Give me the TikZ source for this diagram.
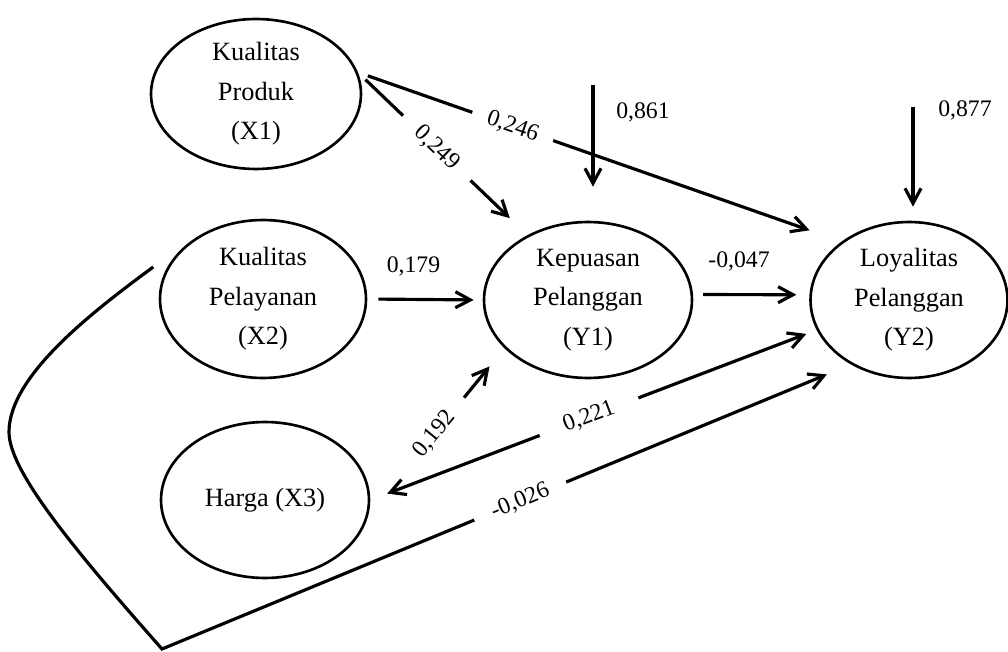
\documentclass[tikz,border=0pt]{standalone}
\usepackage{fontspec}
\setmainfont{Liberation Serif}
\usetikzlibrary{arrows.meta,calc,shapes.geometric}

\begin{document}
\begin{tikzpicture}[x=0.02cm,y=-0.02cm,
  >={Straight Barb[length=3mm,width=3.2mm]},
  var/.style={draw,ellipse,line width=1.5pt,inner sep=0pt,align=center,font=\fontsize{15pt}{22.5pt}\selectfont},
  link/.style={line width=1.8pt},
  num/.style={font=\fontsize{13.5pt}{16pt}\selectfont},
  cut/.style={num,fill=white,sloped,inner ysep=1pt}]
  \useasboundingbox (0,0) rectangle (1008,652);
  % variables
  \node[var,minimum width=4.2cm,minimum height=3cm] (X1) at (256,94) {Kualitas\\Produk\\(X1)};
  \node[var,minimum width=4.12cm,minimum height=3.16cm] (X2) at (263,299) {Kualitas\\Pelayanan\\(X2)};
  \node[var,minimum width=4.16cm,minimum height=3.12cm] (X3) at (265,500) {Harga (X3)};
  \node[var,minimum width=4.16cm,minimum height=3.12cm] (Y1) at (588,300) {Kepuasan\\Pelanggan\\(Y1)};
  \node[var,minimum width=3.94cm,minimum height=3.12cm] (Y2) at (909,300) {Loyalitas\\Pelanggan\\(Y2)};
  % error terms
  \coordinate (e1) at (593,85);
  \coordinate (e2) at (913,107);
  \draw[link,->,shorten >=0.68cm] (e1) -- (e1 |- Y1.north);
  \draw[link,->,shorten >=0.28cm] (e2) -- (e2 |- Y2.north);
  \node[num] (r1) at (643,112) {0,861};
  \node[num] (r2) at (965,110) {0,877};
  % paths
  \draw[link,->,shorten <=0.21cm,shorten >=0.49cm] (X1.12) -- node[cut,pos=0.465,inner xsep=0.4cm] {0,249} (Y1.133);
  \draw[link,->,shorten <=0.21cm,shorten >=0.68cm] (X1.12) -- node[cut,pos=0.32,inner xsep=0.32cm] {0,246} (Y2.139);
  \draw[link,->,shorten <=0.22cm,shorten >=0.18cm] (X2.east) -- node[num,pos=0.4,yshift=0.65cm] {0,179} (Y1.west);
  \draw[link,->,shorten <=0.2cm,shorten >=0.26cm] (Y1.3) -- node[num,pos=0.395,yshift=0.66cm] {-0,047} (Y2.177);
  \draw[link,->,shorten <=1.3cm,shorten >=0.47cm] (X3.-8) -- node[cut,pos=0.485,inner xsep=0.4cm] {0,192} (Y1.210);
  \draw[link,<->,shorten <=0.36cm,shorten >=0.22cm] (X3.east) -- node[cut,pos=0.49,inner xsep=0.52cm] {0,221} (Y2.198);
  % X2 to Y2 round the left side
  \coordinate (knee) at (162,649);
  \draw[link,->,shorten >=0.52cm] ($(X2.164)+(-12,-4)$) .. controls (95,310) and (9,375) .. (9,432)
    .. controls (9,470) and (70,545) .. (knee) -- node[cut,pos=0.52,inner xsep=0.38cm] {-0,026} (Y2.228);
\end{tikzpicture}
\end{document}
